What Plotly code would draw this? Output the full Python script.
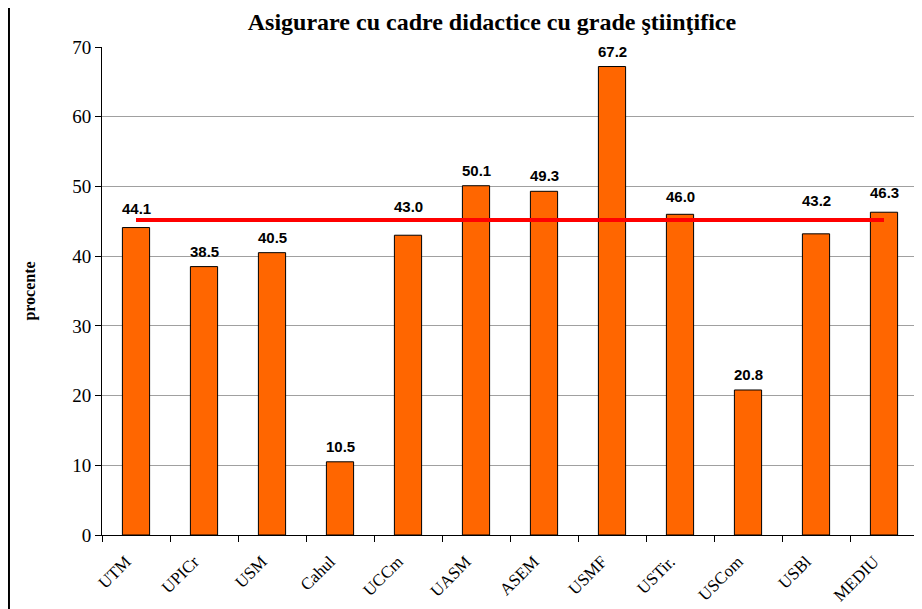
import plotly.graph_objects as go

# Universities and share of staff with scientific degrees (%)
universities = ['UTM', 'UPICr', 'USM', 'Cahul', 'UCCm', 'UASM', 'ASEM',
                'USMF', 'USTir.', 'USCom', 'USBl', 'MEDIU']
percent = [44.1, 38.5, 40.5, 10.5, 43.0, 50.1, 49.3, 67.2, 46.0, 20.8, 43.2, 46.3]
average_line = [45.2] * len(universities)

# extra lift (px) of some value labels so they sit clear of the red line
label_lift = [4, 0, 0, 0, 13, 0, 0, 0, 2, 0, 18, 4]

fig = go.Figure()

fig.add_trace(go.Bar(
    x=universities,
    y=percent,
    width=0.4,
    marker=dict(color='#FF6600', line=dict(color='black', width=1)),
    showlegend=False
))

fig.add_trace(go.Scatter(
    x=universities,
    y=average_line,
    mode='lines',
    line=dict(color='#FF0000', width=4),
    showlegend=False
))

# value labels above the bars
for name, val, lift in zip(universities, percent, label_lift):
    fig.add_annotation(
        x=name, y=val, text=f"{val:.1f}",
        showarrow=False, yanchor='bottom', yshift=5 + lift,
        font=dict(family='Liberation Sans', size=15, color='black', weight='bold')
    )

# page body adds an 8px offset, so the figure is a bit smaller than the window
fig.update_layout(
    width=914,
    height=601,
    margin=dict(l=94, r=4, t=39, b=74),
    paper_bgcolor='white',
    plot_bgcolor='white',
    title=dict(
        text='Asigurare cu cadre didactice cu grade ştiinţifice',
        x=0.5295, xanchor='center',
        y=0.978, yanchor='middle',
        font=dict(family='Liberation Serif', size=24, color='black', weight='bold')
    ),
    font=dict(family='Liberation Serif', color='black'),
    shapes=[dict(type='line', xref='paper', yref='paper',
                 x0=-0.114, x1=-0.114, y0=-0.16, y1=1.1,
                 line=dict(color='black', width=2))]
)

fig.update_yaxes(
    range=[0, 70],
    dtick=10,
    showgrid=True,
    gridcolor='#A0A0A0',
    gridwidth=1,
    showline=True,
    linecolor='black',
    linewidth=1,
    ticks='outside',
    ticklen=6,
    tickcolor='black',
    tickfont=dict(size=19, family='Liberation Serif'),
    zeroline=False,
    automargin=False,
    title=dict(text='procente', standoff=32,
               font=dict(size=16, family='Liberation Serif', weight='bold'))
)

fig.update_xaxes(
    showline=True,
    linecolor='black',
    linewidth=1,
    ticks='outside',
    tickson='boundaries',
    ticklen=6,
    tickcolor='black',
    tickangle=-45,
    ticklabelshift=-10,
    ticklabelstandoff=9,
    automargin=False,
    tickfont=dict(size=17, family='Liberation Serif')
)

fig.write_html("out.html")
